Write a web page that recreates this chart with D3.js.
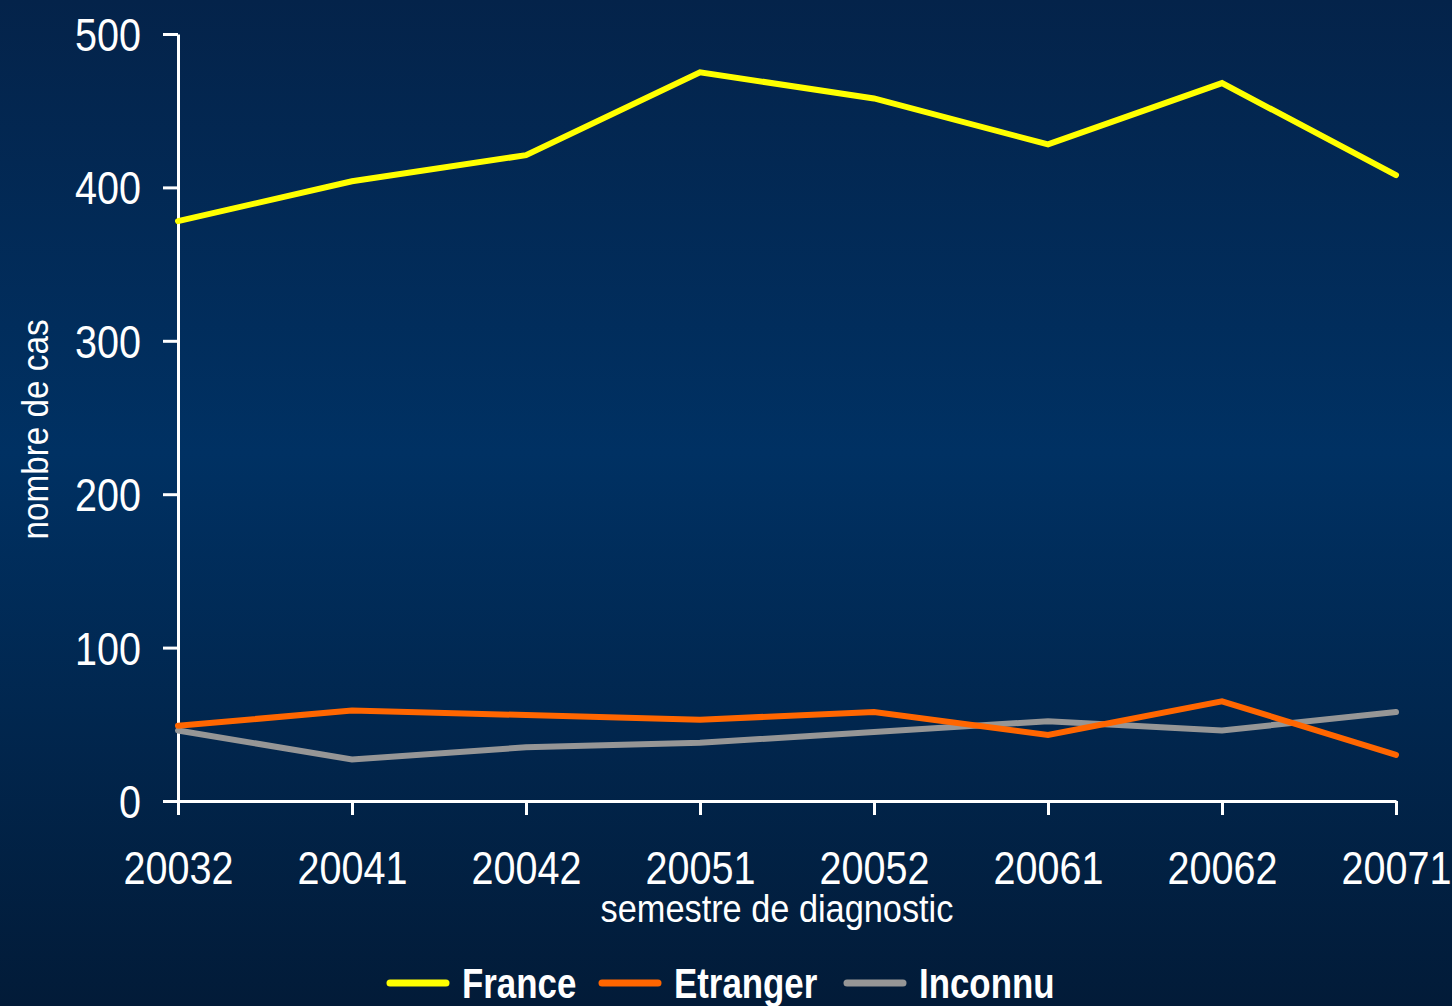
<!DOCTYPE html>
<html>
<head>
<meta charset="utf-8">
<script src="https://cdn.jsdelivr.net/npm/d3@7"></script>
<style>
  html, body { margin: 0; padding: 0; background: #02203f; }
  svg { display: block; }
  text { font-family: "Liberation Sans", Arial, sans-serif; fill: #fff; }
</style>
</head>
<body>
<div id="chart"></div>
<script>
// semesters on the x axis
const semesters = ["20032", "20041", "20042", "20051", "20052", "20061", "20062", "20071"];
// nombre de cas par origine
const france   = [378, 404, 421, 475, 458, 428, 468, 408];
const etranger = [49, 59, 56, 53, 58, 43, 65, 30];
const inconnu  = [46, 27, 35, 38, 45, 52, 46, 58];
const yTicks = [0, 100, 200, 300, 400, 500];

const seriesNames = ["France", "Etranger", "Inconnu"];
const seriesColors = ["#ffff00", "#ff6600", "#969696"];

const width = 1452, height = 1006;
const margin = { left: 178, right: 56, top: 34, bottom: 205 };
const NARROW = 0.86; // no narrow font installed, squeeze text instead

const svg = d3.select("#chart").append("svg")
    .attr("width", width)
    .attr("height", height);

// background gradient, lighter in the middle
const defs = svg.append("defs");
const grad = defs.append("linearGradient")
    .attr("id", "bg")
    .attr("x1", 0).attr("y1", 0).attr("x2", 0).attr("y2", 1);
grad.append("stop").attr("offset", "0%").attr("stop-color", "#04234a");
grad.append("stop").attr("offset", "45%").attr("stop-color", "#003163");
grad.append("stop").attr("offset", "100%").attr("stop-color", "#021b38");
svg.append("rect").attr("width", width).attr("height", height).attr("fill", "url(#bg)");

const x = d3.scalePoint()
    .domain(semesters)
    .range([margin.left, width - margin.right]);

const y = d3.scaleLinear()
    .domain([0, 500])
    .range([height - margin.bottom, margin.top]);

function squeeze(sel, sx) {
    sel.each(function() {
        const t = d3.select(this);
        const tx = +t.attr("x") || 0;
        const ty = +t.attr("y") || 0;
        t.attr("x", 0).attr("y", 0)
            .attr("transform", `translate(${tx},${ty}) scale(${sx},1)`);
    });
}

// y axis
const yAxis = svg.append("g")
    .attr("transform", `translate(${margin.left},0)`)
    .call(d3.axisLeft(y).tickValues(yTicks).tickSize(15).tickSizeOuter(0).tickPadding(22));
yAxis.select(".domain").attr("stroke", "#fff").attr("stroke-width", 3);
yAxis.selectAll(".tick line").attr("stroke", "#fff").attr("stroke-width", 3);
yAxis.selectAll(".tick text")
    .attr("font-size", 46)
    .attr("dy", "0.36em")
    .attr("font-family", "\"Liberation Sans\", Arial, sans-serif")
    .attr("fill", "#fff")
    .call(squeeze, NARROW);

// x axis
const xAxis = svg.append("g")
    .attr("transform", `translate(0,${height - margin.bottom})`)
    .call(d3.axisBottom(x).tickSize(14).tickSizeOuter(0).tickPadding(36));
xAxis.select(".domain").attr("stroke", "#fff").attr("stroke-width", 3);
xAxis.selectAll(".tick line").attr("stroke", "#fff").attr("stroke-width", 3);
xAxis.selectAll(".tick text")
    .attr("font-size", 46)
    .attr("font-family", "\"Liberation Sans\", Arial, sans-serif")
    .attr("fill", "#fff")
    .call(squeeze, NARROW);

// axis titles
svg.append("text")
    .attr("transform", `translate(48,${(y(0) + y(500)) / 2 + 12}) rotate(-90) scale(0.9,1)`)
    .attr("text-anchor", "middle")
    .attr("font-size", 37)
    .text("nombre de cas");

svg.append("text")
    .attr("transform", "translate(777,922) scale(0.88,1)")
    .attr("text-anchor", "middle")
    .attr("font-size", 39)
    .text("semestre de diagnostic");

// lines
const line = d3.line()
    .x((d, i) => x(semesters[i]))
    .y(d => y(d));

const allSeries = [france, etranger, inconnu];
// draw Inconnu first, then Etranger, France on top
[2, 1, 0].forEach(k => {
    svg.append("path")
        .datum(allSeries[k])
        .attr("fill", "none")
        .attr("stroke", seriesColors[k])
        .attr("stroke-width", 6)
        .attr("stroke-linejoin", "miter")
        .attr("stroke-linecap", "round")
        .attr("d", line);
});

// legend
const legend = svg.append("g").attr("transform", "translate(388,983)");
const legendX = [0, 212, 457];
seriesNames.forEach((name, k) => {
    const g = legend.append("g").attr("transform", `translate(${legendX[k]},0)`);
    g.append("line")
        .attr("x1", 2).attr("x2", 58)
        .attr("y1", 0).attr("y2", 0)
        .attr("stroke", seriesColors[k])
        .attr("stroke-width", 7)
        .attr("stroke-linecap", "round");
    g.append("text")
        .attr("transform", "translate(74,15) scale(0.83,1)")
        .attr("font-size", 42)
        .attr("font-weight", "bold")
        .text(name);
});
</script>
</body>
</html>
